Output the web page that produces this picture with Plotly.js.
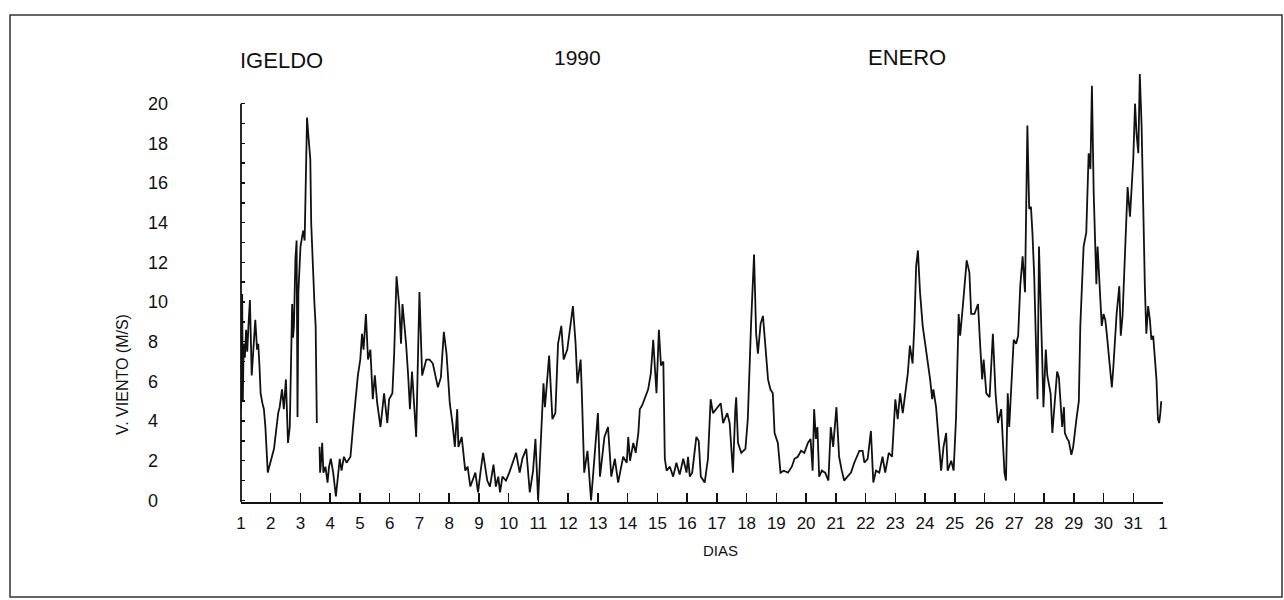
<!DOCTYPE html>
<html><head><meta charset="utf-8">
<script src="https://cdn.plot.ly/plotly-3.0.1.min.js"></script>
<style>html,body{margin:0;padding:0;background:#fff}</style>
</head><body><div id="chart" style="width:1284px;height:600px"></div>
<script>
// Wind speed (m/s) at Igeldo, January 1990
const days = [
1.00,1.02,1.04,1.06,1.09,1.13,1.17,1.21,1.25,1.30,1.36,1.42,1.48,1.54,1.58,1.62,1.66,1.72,1.77,1.82,1.90,1.95,
2.02,2.11,2.25,2.30,2.38,2.44,2.51,2.58,2.64,2.67,2.72,2.75,2.78,2.83,2.87,2.90,2.93,
3.00,3.09,3.14,3.18,3.22,3.27,3.33,3.36,3.40,3.47,3.51,3.55,3.60,3.64,3.66,3.70,3.73,3.77,3.84,3.91,3.96,
4.02,4.10,4.19,4.26,4.32,4.38,4.46,4.55,4.68,4.79,4.93,
5.01,5.07,5.12,5.20,5.27,5.35,5.43,5.50,5.58,5.69,5.81,5.92,5.98,
6.09,6.15,6.23,6.32,6.38,6.43,6.55,6.62,6.68,6.75,6.89,
7.00,7.09,7.23,7.34,7.45,7.62,7.72,7.82,7.91,
8.02,8.11,8.19,8.27,8.31,8.42,8.54,8.62,8.71,8.88,8.97,
9.05,9.14,9.28,9.37,9.49,9.57,9.65,9.71,9.79,9.91,
10.02,10.14,10.25,10.37,10.46,10.59,10.71,10.82,10.90,10.99,
11.09,11.17,11.22,11.36,11.47,11.57,11.66,11.77,11.85,11.97,
12.16,12.25,12.31,12.42,12.46,12.54,12.65,12.77,12.85,
13.00,13.07,13.22,13.34,13.45,13.57,13.68,13.85,13.97,
14.02,14.08,14.19,14.27,14.36,14.41,14.49,14.58,14.69,14.78,14.86,14.92,14.97,
15.05,15.12,15.20,15.25,15.31,15.42,15.53,15.64,15.75,15.87,15.98,
16.03,16.09,16.17,16.31,16.39,16.46,16.59,16.70,16.79,16.87,16.98,
17.13,17.21,17.35,17.43,17.54,17.62,17.65,17.71,17.82,17.96,
18.04,18.15,18.25,18.32,18.38,18.47,18.55,18.63,18.72,18.80,18.88,18.94,
19.05,19.14,19.25,19.39,19.52,19.61,19.72,19.83,19.94,
20.06,20.15,20.22,20.27,20.33,20.38,20.44,20.53,20.64,20.75,20.83,20.91,
21.02,21.11,21.20,21.28,21.39,21.51,21.62,21.79,21.90,21.96,
22.07,22.18,22.26,22.35,22.46,22.57,22.66,22.78,22.89,
23.00,23.08,23.16,23.25,23.34,23.42,23.49,23.58,23.64,23.70,23.76,23.83,23.92,
24.01,24.09,24.17,24.24,24.28,24.37,24.46,24.54,24.62,24.71,24.76,24.88,24.96,
25.04,25.13,25.18,25.27,25.33,25.40,25.49,25.55,25.66,25.78,25.85,25.92,25.97,
26.06,26.17,26.28,26.37,26.45,26.56,26.67,26.72,26.78,26.83,26.89,26.98,
27.06,27.13,27.20,27.28,27.36,27.39,27.44,27.50,27.56,27.61,27.67,27.72,27.78,27.83,27.89,27.94,27.98,
28.06,28.11,28.22,28.28,28.36,28.44,28.50,28.56,28.61,28.67,28.70,28.78,28.83,28.92,28.98,
29.09,29.17,29.22,29.28,29.33,29.42,29.50,29.56,29.61,29.67,29.72,29.76,29.80,29.87,29.94,
30.00,30.06,30.11,30.20,30.28,30.33,30.44,30.53,30.58,30.64,30.72,30.81,30.89,30.94,
31.00,31.06,31.11,31.17,31.22,31.28,31.33,31.39,31.44,31.50,31.56,31.61,31.67,31.72,31.78,31.83,31.87,31.91,31.94
];
const speed = [
4.6,5.8,10.4,5.0,7.9,7.2,8.6,7.5,8.8,10.1,6.3,8.0,9.1,7.6,7.9,6.8,5.4,4.9,4.6,3.7,1.4,1.7,
2.1,2.6,4.4,4.7,5.6,4.6,6.1,2.9,3.7,6.4,9.9,8.2,8.8,12.2,13.1,4.2,10.5,
12.8,13.6,13.1,16.0,19.3,18.3,17.2,14.0,12.1,9.9,8.8,3.9,null,2.7,1.4,2.1,2.9,1.4,1.7,0.9,1.7,
2.1,1.4,0.2,1.2,2.1,1.5,2.2,1.9,2.2,4.1,6.3,
7.1,8.4,7.6,9.4,7.1,7.6,5.1,6.3,4.9,3.7,5.4,3.9,5.1,
5.4,7.4,11.3,9.8,7.9,9.9,7.9,6.3,4.6,6.5,3.2,
10.5,6.3,7.1,7.1,6.9,5.7,6.2,8.5,7.4,
4.9,3.9,2.7,4.6,2.7,3.2,1.5,1.7,0.7,1.4,0.4,
1.4,2.4,1.0,0.7,1.8,0.7,1.2,0.4,1.2,1.0,
1.4,1.9,2.4,1.4,2.1,2.6,0.4,1.5,3.1,0.0,
2.9,5.9,4.7,7.3,4.1,4.4,7.9,8.8,7.1,7.6,
9.8,7.9,5.9,7.1,5.4,1.4,2.5,0.0,1.5,
4.4,1.2,3.2,3.7,1.2,2.1,0.9,2.2,1.9,
3.2,2.0,2.9,2.4,3.4,4.6,4.8,5.2,5.6,6.4,8.1,6.6,5.4,
8.6,6.8,7.0,2.1,1.5,1.7,1.2,1.9,1.3,2.1,1.4,
2.2,1.2,1.4,3.2,3.0,1.2,0.9,2.1,5.1,4.4,4.6,
4.9,3.9,4.4,3.9,1.4,4.6,5.2,2.9,2.4,2.6,
4.1,8.9,12.4,8.4,7.4,8.9,9.3,7.8,6.1,5.6,5.4,3.4,
2.9,1.4,1.5,1.4,1.7,2.1,2.2,2.5,2.4,
2.9,3.1,1.5,4.6,3.1,3.7,1.2,1.5,1.4,1.0,3.7,2.7,
4.7,2.2,1.5,1.0,1.2,1.4,1.9,2.5,2.5,1.9,
2.1,3.5,0.9,1.5,1.4,2.2,1.4,2.4,2.2,
5.1,4.1,5.4,4.4,5.6,6.4,7.8,6.9,8.8,11.8,12.6,10.5,8.8,
7.9,7.1,6.1,5.1,5.6,4.7,2.9,1.5,2.7,3.4,1.5,2.0,1.5,
4.1,9.4,8.3,9.8,10.8,12.1,11.5,9.4,9.4,9.9,7.9,6.1,7.1,
5.4,5.2,8.4,5.4,3.9,4.6,1.4,1.0,5.4,3.7,5.7,8.1,
7.9,8.3,10.8,12.3,10.5,13.6,18.9,14.7,14.8,13.5,11.3,8.4,5.1,12.8,10.1,7.1,4.7,
7.6,6.3,5.4,3.4,5.1,6.5,6.2,4.7,3.7,4.7,3.4,3.1,3.0,2.3,2.7,
4.1,5.0,8.8,11.3,12.8,13.5,17.5,16.7,20.9,15.5,12.8,10.9,12.8,10.5,8.8,
9.4,9.1,8.4,7.1,5.7,6.7,9.4,10.8,8.3,9.3,12.1,15.8,14.3,15.5,
17.2,20.0,18.5,17.5,21.5,18.9,14.7,10.8,8.4,9.8,9.1,8.1,8.3,7.1,6.1,4.1,3.9,4.4,5.0
];
const dayTicks = [1,2,3,4,5,6,7,8,9,10,11,12,13,14,15,16,17,18,19,20,21,22,23,24,25,26,27,28,29,30,31,32];
const dayLabels = ['1','2','3','4','5','6','7','8','9','10','11','12','13','14','15','16','17','18','19','20','21','22','23','24','25','26','27','28','29','30','31','1'];
const speedTicks = [0,1,2,3,4,5,6,7,8,9,10,11,12,13,14,15,16,17,18,19,20];
const speedLabelValues = [0,2,4,6,8,10,12,14,16,18,20];
const titleLeft = 'IGELDO', titleMid = '1990', titleRight = 'ENERO';
const yTitle = 'V. VIENTO (M/S)', xTitle = 'DIAS';

const W = 1284, H = 600;
const M = {l: 241, r: 121, t: 64, b: 98};
const PW = W - M.l - M.r, PH = H - M.t - M.b;
const px = x => (x - M.l) / PW;          // page pixel -> paper x
const py = y => (H - M.b - y) / PH;      // page pixel -> paper y
const FIG = '\u2007';
const speedLabels = speedTicks.map(v => speedLabelValues.includes(v) ? (String(v).length < 2 ? String(v) + FIG : String(v)) : '');
const ink = '#111111';
const font = 'Liberation Sans, Arial, Helvetica, sans-serif';

const trace = {
  x: days, y: speed, type: 'scatter', mode: 'lines',
  line: {color: ink, width: 1.8}, connectgaps: false, hoverinfo: 'skip'
};

const layout = {
  width: W, height: H, margin: M,
  paper_bgcolor: '#fff', plot_bgcolor: '#fff',
  showlegend: false,
  font: {family: font, color: ink, size: 18},
  xaxis: {
    range: [1, 32], tickmode: 'array', tickvals: dayTicks, ticktext: dayLabels,
    ticks: 'inside', ticklen: 9, tickwidth: 1.5, tickcolor: ink,
    showline: true, linecolor: ink, linewidth: 2, showgrid: false, zeroline: false,
    tickfont: {size: 17, family: font, color: ink}, ticklabelstandoff: 5,
    title: {text: ''}
  },
  yaxis: {
    range: [-0.08, 22], tickmode: 'array', tickvals: speedTicks, ticktext: speedLabels,
    ticks: 'inside', ticklen: 4, tickwidth: 1.5, tickcolor: ink,
    showline: false, showgrid: false, zeroline: false,
    tickfont: {size: 18, family: font, color: ink}, ticklabelstandoff: 72,
    title: {text: ''}
  },
  shapes: [
    {type: 'line', xref: 'paper', yref: 'y', x0: 0, x1: 0, y0: -0.08, y1: 20, line: {color: ink, width: 1.8}},
    {type: 'rect', xref: 'paper', yref: 'paper', x0: px(10), x1: px(1282), y0: py(597), y1: py(15), line: {color: '#333', width: 1.5}}
  ],
  annotations: [
    {text: titleLeft, xref: 'paper', yref: 'paper', x: px(238), y: py(61), xanchor: 'left', yanchor: 'middle', showarrow: false, font: {size: 22, family: font, color: ink}},
    {text: titleMid, xref: 'paper', yref: 'paper', x: px(577), y: py(58), xanchor: 'center', yanchor: 'middle', showarrow: false, font: {size: 21, family: font, color: ink}},
    {text: titleRight, xref: 'paper', yref: 'paper', x: px(866), y: py(57), xanchor: 'left', yanchor: 'middle', showarrow: false, font: {size: 22, family: font, color: ink}},
    {text: yTitle, xref: 'paper', yref: 'paper', x: px(122), y: py(374), xanchor: 'center', yanchor: 'middle', textangle: -90, showarrow: false, font: {size: 16, family: font, color: ink}},
    {text: xTitle, xref: 'paper', yref: 'paper', x: px(720), y: py(550), xanchor: 'center', yanchor: 'middle', showarrow: false, font: {size: 15, family: font, color: ink}}
  ]
};

Plotly.newPlot('chart', [trace], layout, {staticPlot: true, displayModeBar: false});
</script></body></html>
